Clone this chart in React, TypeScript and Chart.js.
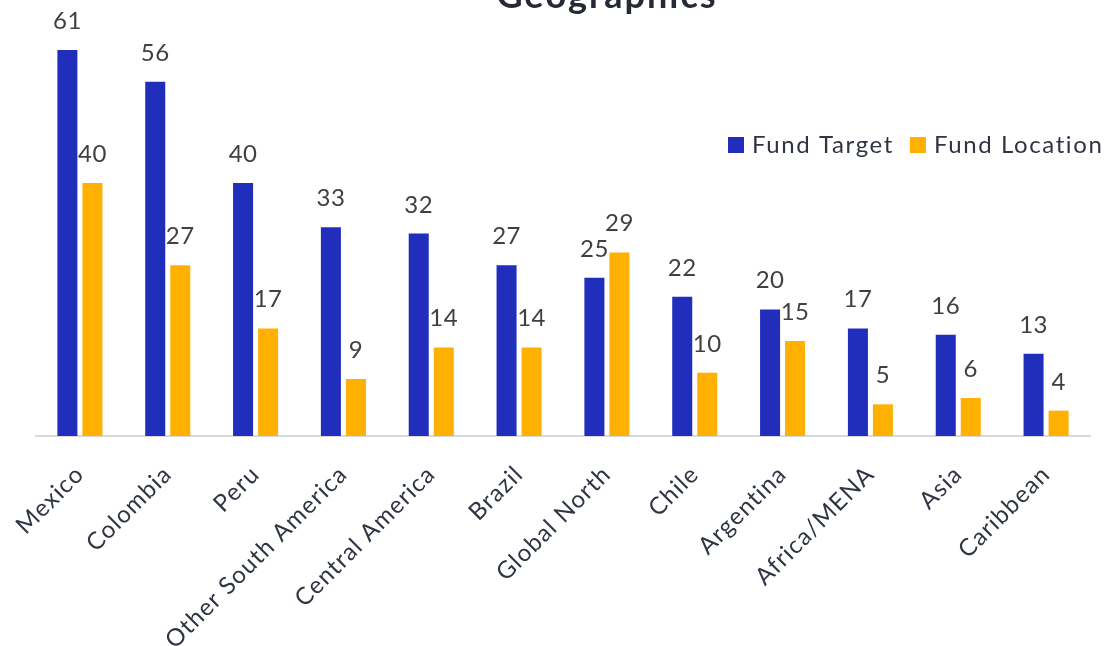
import React, { useEffect, useRef } from "react";
import { Chart, registerables } from "chart.js";

Chart.register(...registerables);

const TITLE = "Geographics";
const categories = [
  "Mexico",
  "Colombia",
  "Peru",
  "Other South America",
  "Central America",
  "Brazil",
  "Global North",
  "Chile",
  "Argentina",
  "Africa/MENA",
  "Asia",
  "Caribbean",
];
const fundTarget = [61, 56, 40, 33, 32, 27, 25, 22, 20, 17, 16, 13];
const fundLocation = [40, 27, 17, 9, 14, 14, 29, 10, 15, 5, 6, 4];
const seriesNames = ["Fund Target", "Fund Location"];
const seriesColors = ["#202EBB", "#FFB000"];

const FONT = "Lato, 'Noto Sans', sans-serif";
const SHIFT = 40;
const TICK_SPACING = "1.2px";

const spacing = {
  id: "spacing",
  beforeLayout(chart: any) {
    chart.ctx.letterSpacing = TICK_SPACING;
  },
  beforeDraw(chart: any) {
    chart.ctx.letterSpacing = TICK_SPACING;
  },
};

const valueLabels = {
  id: "valueLabels",
  afterDatasetsDraw(chart: any) {
    const ctx = chart.ctx;
    ctx.save();
    ctx.letterSpacing = "0.5px";
    ctx.font = `24px ${FONT}`;
    ctx.fillStyle = "#404040";
    ctx.textAlign = "center";
    ctx.textBaseline = "alphabetic";
    chart.data.datasets.forEach((ds: any, i: number) => {
      const meta = chart.getDatasetMeta(i);
      meta.data.forEach((el: any, j: number) => {
        ctx.fillText(String(ds.data[j]), el.x, el.y - 21);
      });
    });
    ctx.restore();
  },
};

const titleAndLegend = {
  id: "titleAndLegend",
  afterDraw(chart: any) {
    const ctx = chart.ctx;
    ctx.save();
    ctx.letterSpacing = "2px";
    ctx.font = `bold 36px ${FONT}`;
    ctx.fillStyle = "#252a35";
    ctx.textAlign = "center";
    ctx.textBaseline = "alphabetic";
    ctx.fillText(TITLE, 607, SHIFT + 8);

    ctx.letterSpacing = "1.6px";
    ctx.font = `24px ${FONT}`;
    ctx.textAlign = "left";
    ctx.textBaseline = "middle";
    let x = 728;
    const y = SHIFT + 145;
    chart.data.datasets.forEach((ds: any) => {
      ctx.fillStyle = ds.backgroundColor;
      ctx.fillRect(x, y - 8, 16, 16);
      ctx.fillStyle = "#2f3542";
      ctx.fillText(ds.label, x + 24, y);
      x += 24 + ctx.measureText(ds.label).width + 16;
    });
    ctx.restore();
  },
};

export default function App() {
  const ref = useRef<HTMLCanvasElement | null>(null);
  useEffect(() => {
    if (!ref.current) return;
    const chart = new Chart(ref.current, {
      type: "bar",
      data: {
        labels: categories,
        datasets: [
          { label: seriesNames[0], data: fundTarget, backgroundColor: seriesColors[0] },
          { label: seriesNames[1], data: fundLocation, backgroundColor: seriesColors[1] },
        ],
      },
      options: {
        animation: false,
        responsive: true,
        maintainAspectRatio: false,
        layout: { padding: { top: 50 + SHIFT, left: 36, right: 17, bottom: 0 } },
        datasets: { bar: { categoryPercentage: 0.57, barPercentage: 0.8 } },
        plugins: {
          legend: { display: false },
          title: { display: false },
          tooltip: { enabled: false },
        },
        scales: {
          x: {
            grid: { display: false },
            border: { display: true, color: "#d9d9d9", width: 2 },
            ticks: {
              maxRotation: 45,
              minRotation: 45,
              autoSkip: false,
              padding: 16,
              color: "#2f3542",
              font: { family: FONT, size: 24 },
            },
            afterFit: (scale: any) => {
              scale.height = 210;
            },
          },
          y: { display: false, min: 0, max: 61 },
        },
      },
      plugins: [spacing, valueLabels, titleAndLegend],
    });
    return () => chart.destroy();
  }, []);
  return (
    <div style={{ position: "fixed", top: 0, left: 0, width: 1107, height: 646, overflow: "hidden", background: "#fff" }}>
      <div style={{ position: "absolute", top: -SHIFT, left: 0, width: 1107, height: 646 + SHIFT }}>
        <canvas ref={ref} />
      </div>
    </div>
  );
}
